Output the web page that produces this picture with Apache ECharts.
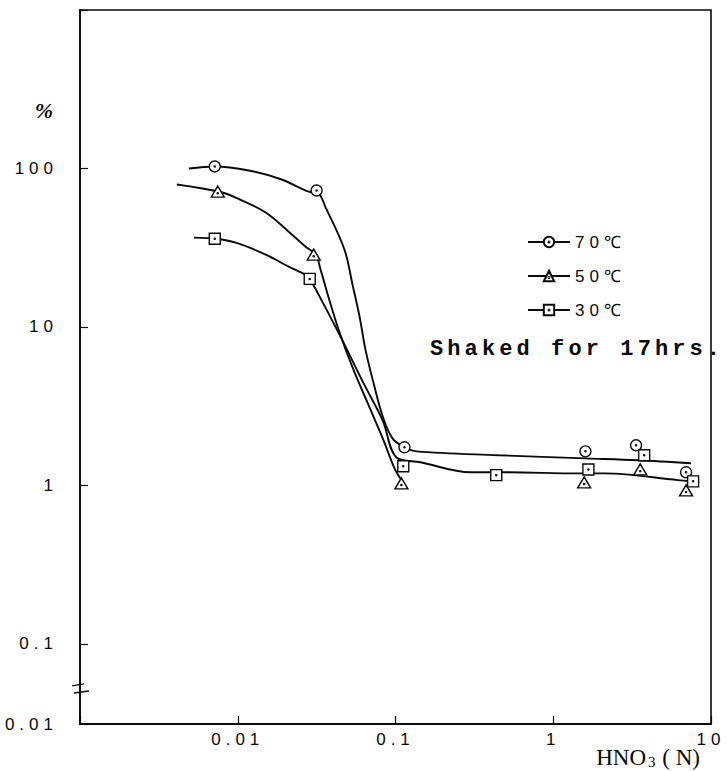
<!DOCTYPE html>
<html>
<head>
<meta charset="utf-8">
<script src="https://cdn.jsdelivr.net/npm/echarts@6/dist/echarts.min.js"></script>
<style>
  html, body { margin: 0; padding: 0; background: #fff; }
  #chart { width: 728px; height: 771px; }
  /* typewriter-like spacing of the printed labels */
  #chart text[style*="Liberation Mono"] { letter-spacing: 4.1px; }
  #chart text[style*="Liberation Sans"] { letter-spacing: 5px; }
</style>
</head>
<body>
<div id="chart"></div>
<script>
// Measured points: HNO3 concentration (N) against percentage, per temperature
const conc70 = [0.00715, 0.0316, 0.114, 1.60, 3.35, 6.95];
const pct70  = [103, 72.6, 1.74, 1.64, 1.79, 1.21];
const conc50 = [0.00747, 0.0303, 0.109, 1.57, 3.56, 6.95];
const pct50  = [71.5, 28.6, 1.03, 1.045, 1.26, 0.93];
const conc30 = [0.00715, 0.0286, 0.112, 0.435, 1.67, 3.77, 7.7];
const pct30  = [36, 20.1, 1.32, 1.16, 1.26, 1.55, 1.06];

// Hand-drawn trend curves through each set
const curve70X = [0.0049, 0.00715, 0.01175, 0.019, 0.0281, 0.0321, 0.0361, 0.0475, 0.0534, 0.0592, 0.0646, 0.0726, 0.0828, 0.0957, 0.114, 0.136, 0.449, 1.60, 3.45, 7.46];
const curve70Y = [100, 103, 97.1, 85.2, 71.5, 70.5, 56.6, 30.7, 18.5, 11.6, 7.14, 4.42, 2.74, 1.98, 1.74, 1.64, 1.55, 1.48, 1.44, 1.38];
const curve50X = [0.00411, 0.00758, 0.00971, 0.01503, 0.02103, 0.02694, 0.0312, 0.0335, 0.0377, 0.0436, 0.0542, 0.0675, 0.0839, 0.0986, 0.109];
const curve50Y = [79.2, 71.5, 65.5, 52.7, 39.9, 32.1, 28.6, 23.0, 15.3, 9.58, 5.35, 3.21, 1.93, 1.28, 1.08];
const curve30X = [0.00527, 0.00726, 0.00971, 0.01503, 0.02103, 0.02694, 0.0286, 0.0321, 0.0449, 0.0627, 0.0828, 0.1014, 0.144, 0.299, 0.505, 1.44, 2.13, 6.18, 7.59];
const curve30Y = [36.6, 36.0, 34.0, 28.6, 24.0, 21.3, 20.1, 16.4, 8.65, 4.42, 2.58, 1.50, 1.40, 1.21, 1.21, 1.19, 1.19, 1.08, 1.06];

// Axis tick labels
const xTickValues = [0.01, 0.1, 1, 10];
const xTickLabels = ['0.01', '0.1', '1', '10'];
const yTickValues = [0.1, 1, 10, 100];
const yTickLabels = ['0.1', '1', '10', '100'];
const yBottomLabel = '0.01';
const seriesNames = ['70℃', '50℃', '30℃'];
const noteText = 'Shaked for 17hrs.';

const INK = '#0a0a0a';
const SYM = {
  circle: 'path://M0,5A5,5,0,1,1,10,5A5,5,0,1,1,0,5Z M4.5,5A0.5,0.5,0,1,1,5.5,5A0.5,0.5,0,1,1,4.5,5Z',
  triangle: 'path://M6,0L12,10.4L0,10.4Z M5.5,6.8A0.5,0.5,0,1,1,6.5,6.8A0.5,0.5,0,1,1,5.5,6.8Z',
  square: 'path://M0,0L10,0L10,10L0,10Z M4.5,5A0.5,0.5,0,1,1,5.5,5A0.5,0.5,0,1,1,4.5,5Z'
};

const pair = (xs, ys) => xs.map((x, i) => [x, ys[i]]);
const findLabel = (v, values, labels) => {
  const i = values.findIndex(t => Math.abs(Math.log10(v / t)) < 0.01);
  return i < 0 ? '' : labels[i];
};

const groups = [
  { name: seriesNames[0], curve: pair(curve70X, curve70Y), pts: pair(conc70, pct70), symbol: SYM.circle, size: [11, 11] },
  { name: seriesNames[1], curve: pair(curve50X, curve50Y), pts: pair(conc50, pct50), symbol: SYM.triangle, size: [13, 11] },
  { name: seriesNames[2], curve: pair(curve30X, curve30Y), pts: pair(conc30, pct30), symbol: SYM.square, size: [11, 11] }
];

const markerStyle = { color: '#fff', borderColor: INK, borderWidth: 1.4, opacity: 1 };
const series = [];
groups.forEach(g => {
  series.push({
    type: 'line', name: g.name, data: g.curve, smooth: 0.35,
    showSymbol: false, symbol: g.symbol, symbolSize: g.size,
    lineStyle: { color: INK, width: 1.9 },
    itemStyle: markerStyle, z: 2, silent: true
  });
  series.push({
    type: 'scatter', name: g.name + ' points', data: g.pts,
    symbol: g.symbol, symbolSize: g.size,
    itemStyle: markerStyle, z: 3, silent: true
  });
});

const chart = echarts.init(document.getElementById('chart'), null, { renderer: 'svg' });
chart.setOption({
  animation: false,
  backgroundColor: '#fff',
  grid: {
    left: 80, right: 17, top: 10, bottom: 47,
    show: true, borderColor: INK, borderWidth: 1.6, backgroundColor: 'transparent',
    outerBoundsMode: 'none'
  },
  legend: {
    orient: 'vertical', left: 522, top: 228.5,
    itemWidth: 42, itemHeight: 13, itemGap: 17,
    data: seriesNames, selectedMode: false,
    textStyle: { fontFamily: 'Liberation Sans', fontSize: 17, color: INK, lineHeight: 17 }
  },
  xAxis: {
    type: 'log', logBase: 10, min: 0.001, max: 10,
    axisLine: { show: true, lineStyle: { color: INK, width: 1.8 } },
    axisTick: { show: true, inside: true, length: 8, lineStyle: { color: INK, width: 1.2 } },
    splitLine: { show: false },
    axisLabel: {
      margin: 7, fontFamily: 'Liberation Sans', fontSize: 17, color: INK,
      formatter: v => findLabel(v, xTickValues, xTickLabels)
    },
    name: '{a|HNO}{b|3}{a|\u00a0(\u00a0N)}',
    nameLocation: 'end', nameGap: -11, nameMoveOverlap: false,
    nameTextStyle: {
      align: 'right', verticalAlign: 'top', padding: [22, 0, 0, 0],
      rich: {
        a: { fontFamily: 'Liberation Serif', fontSize: 23, color: INK, lineHeight: 23, verticalAlign: 'top' },
        b: { fontFamily: 'Liberation Serif', fontSize: 15, color: INK, lineHeight: 15, verticalAlign: 'bottom', padding: [12, 1, 0, 2] }
      }
    }
  },
  yAxis: {
    type: 'log', logBase: 10, min: 0.0312, max: 1000,
    axisLine: { show: true, lineStyle: { color: INK, width: 1.8 } },
    axisTick: { show: true, inside: true, length: 8, lineStyle: { color: INK, width: 1.2 } },
    splitLine: { show: false },
    axisLabel: {
      margin: 22, fontFamily: 'Liberation Sans', fontSize: 17, color: INK,
      formatter: v => (v < 0.05 ? yBottomLabel : findLabel(v, yTickValues, yTickLabels))
    },
    name: '%', nameLocation: 'end', nameGap: -100, nameMoveOverlap: false,
    nameTextStyle: {
      fontFamily: 'Liberation Serif', fontStyle: 'italic', fontWeight: 'bold', fontSize: 22, color: INK,
      align: 'right', verticalAlign: 'middle', padding: [0, 27, 0, 0]
    }
  },
  series: series
});

// Axis-break mark on the value axis and the experimental note
const axisX = chart.convertToPixel({ xAxisIndex: 0 }, 0.001);
const breakHi = chart.convertToPixel({ yAxisIndex: 0 }, 0.0551);
const breakLo = chart.convertToPixel({ yAxisIndex: 0 }, 0.0497);
chart.setOption({
  graphic: [
    { type: 'line', shape: { x1: axisX - 8, y1: breakHi + 1, x2: axisX + 4, y2: breakHi - 1 }, style: { stroke: INK, lineWidth: 1.4 }, z: 10 },
    { type: 'line', shape: { x1: axisX - 6, y1: breakLo + 1, x2: axisX + 9, y2: breakLo - 1 }, style: { stroke: INK, lineWidth: 1.4 }, z: 10 },
    {
      type: 'text', x: 430, y: 349, z: 10,
      style: { text: noteText, fontFamily: 'Liberation Mono', fontWeight: 'bold', fontSize: 22, fill: INK, verticalAlign: 'middle' }
    }
  ]
});
</script>
</body>
</html>
